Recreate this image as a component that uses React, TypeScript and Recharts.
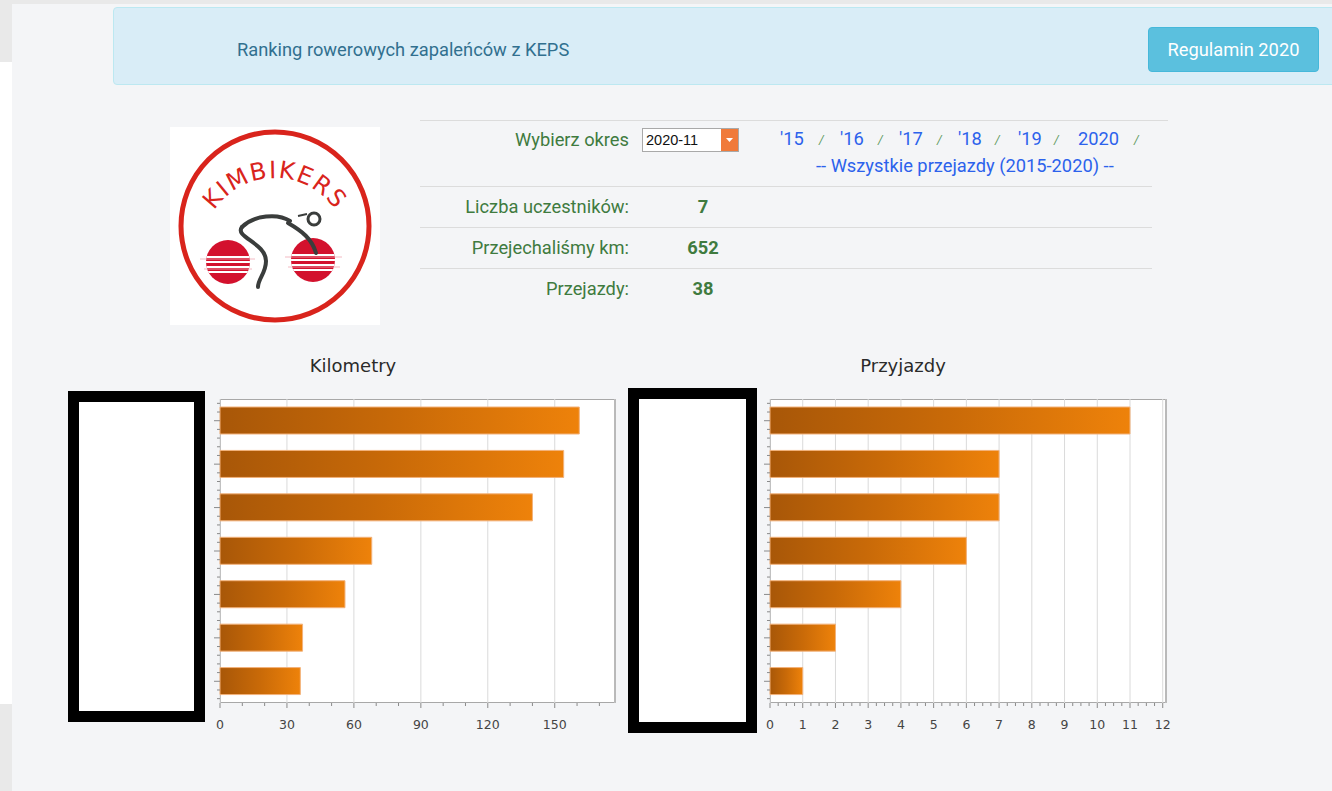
import React from 'react'
import { BarChart, Bar, XAxis, YAxis, CartesianGrid } from 'recharts'

// names are hidden (blacked out) in the reference
const riders = ['Uczestnik 1', 'Uczestnik 2', 'Uczestnik 3', 'Uczestnik 4', 'Uczestnik 5', 'Uczestnik 6', 'Uczestnik 7']
const kmValues = [161, 154, 140, 68, 56, 37, 36]
const rideValues = [11, 7, 7, 6, 4, 2, 1]
const kmTicks = [0, 30, 60, 90, 120, 150]
const rideTicks = [0, 1, 2, 3, 4, 5, 6, 7, 8, 9, 10, 11, 12]
const yearLinks = ["'15", "'16", "'17", "'18", "'19", '2020']

const KM_MAX = 177
const RIDE_MAX = 12.1
const PLOT_W_LEFT = 395
const PLOT_W_RIGHT = 396
const PLOT_H = 304

const kmData = riders.map((name, i) => ({ name, value: kmValues[i] }))
const rideData = riders.map((name, i) => ({ name, value: rideValues[i] }))

const green = '#3f7b3f'
const blue = '#2c62ec'
const FS = 18.3

function makeXTick(minorStep: number, perMajor: number, pxPerUnit: number, max: number) {
  return (props: any) => {
    const { x, y, payload } = props
    const v = payload.value as number
    const minors = []
    for (let k = 1; k < perMajor; k++) {
      const val = v + k * minorStep
      if (val <= max) {
        const mx = x + k * minorStep * pxPerUnit
        minors.push(<line key={k} x1={mx} x2={mx} y1={y} y2={y + 3} stroke="#8a8a8a" />)
      }
    }
    return (
      <g>
        <line x1={x} x2={x} y1={y} y2={y + 5} stroke="#8a8a8a" />
        {minors}
        <text x={x} y={y + 26} textAnchor="middle" fontSize={12.5} fill="#444" fontFamily="DejaVu Sans, sans-serif">
          {v}
        </text>
      </g>
    )
  }
}

function yTick(props: any) {
  const { x, y } = props
  const band = PLOT_H / riders.length
  const marks = []
  for (let k = -2; k <= 2; k++) {
    if (k === 0) continue
    const my = y + (k * band) / 5
    marks.push(<line key={k} x1={x - 3} x2={x} y1={my} y2={my} stroke="#8a8a8a" />)
  }
  return (
    <g>
      <line x1={x - 6} x2={x} y1={y} y2={y} stroke="#8a8a8a" />
      {marks}
    </g>
  )
}

function HBarChart({ data, max, ticks, plotW, gradId, tick }: any) {
  return (
    <BarChart
      width={20 + plotW + 25}
      height={350}
      layout="vertical"
      data={data}
      margin={{ top: 9, right: 25, bottom: 7, left: 0 }}
      barCategoryGap={0}
    >
      <defs>
        <linearGradient id={gradId} x1="0" y1="0" x2="1" y2="0">
          <stop offset="0%" stopColor="#a85708" />
          <stop offset="50%" stopColor="#c96a08" />
          <stop offset="100%" stopColor="#ee820a" />
        </linearGradient>
      </defs>
      <CartesianGrid horizontal={false} vertical stroke="#dadada" />
      <XAxis
        type="number"
        domain={[0, max]}
        ticks={ticks}
        interval={0}
        height={30}
        axisLine={false}
        tickLine={false}
        tickSize={0}
        tickMargin={0}
        tick={tick}
      />
      <YAxis
        type="category"
        dataKey="name"
        width={20}
        interval={0}
        axisLine={false}
        tickLine={false}
        tickSize={0}
        tickMargin={0}
        tick={yTick}
      />
      <Bar dataKey="value" fill={`url(#${gradId})`} stroke="#f3b27a" strokeWidth={1} barSize={27} isAnimationActive={false} />
    </BarChart>
  )
}

function Logo() {
  return (
    <svg width={210} height={198} style={{ display: 'block' }}>
      <rect x={0} y={0} width={210} height={198} fill="#fff" />
      <circle cx={105} cy={99} r={94} fill="none" stroke="#d9241c" strokeWidth={5} />
      <path id="logoArc" d="M 33 112 A 73 73 0 0 1 177 112" fill="none" />
      <text fontSize={24} fill="#d9241c" fontFamily="DejaVu Sans, sans-serif" letterSpacing={1.5}>
        <textPath href="#logoArc" startOffset="50%" textAnchor="middle">KIMBIKERS</textPath>
      </text>
      <defs>
        <clipPath id="wl"><circle cx={58} cy={135} r={22} /></clipPath>
        <clipPath id="wr"><circle cx={143} cy={133} r={22} /></clipPath>
      </defs>
      <circle cx={58} cy={135} r={22} fill="#d3112d" />
      <circle cx={143} cy={133} r={22} fill="#d3112d" />
      <g clipPath="url(#wl)" stroke="#fff" strokeWidth={2}>
        <line x1={30} x2={90} y1={130} y2={130} />
        <line x1={30} x2={90} y1={135} y2={135} />
        <line x1={30} x2={90} y1={140} y2={140} />
        <line x1={30} x2={90} y1={145} y2={145} />
      </g>
      <g clipPath="url(#wr)" stroke="#fff" strokeWidth={2}>
        <line x1={115} x2={175} y1={128} y2={128} />
        <line x1={115} x2={175} y1={133} y2={133} />
        <line x1={115} x2={175} y1={138} y2={138} />
        <line x1={115} x2={175} y1={143} y2={143} />
      </g>
      <g stroke="#f0a8b4" strokeWidth={0.8}>
        <line x1={30} x2={85} y1={132} y2={132} />
        <line x1={34} x2={82} y1={142} y2={142} />
        <line x1={115} x2={172} y1={130} y2={130} />
        <line x1={118} x2={170} y1={140} y2={140} />
      </g>
      <g fill="none" stroke="#3a3d3c" strokeWidth={4} strokeLinecap="round">
        <path d="M 72 100 C 84 88, 108 86, 120 94" />
        <path d="M 72 100 C 64 110, 96 116, 96 134 C 96 146, 88 152, 88 160" />
        <path d="M 118 96 C 132 104, 142 112, 146 126" />
      </g>
      <circle cx={144} cy={92} r={6} fill="none" stroke="#3a3d3c" strokeWidth={3} />
      <path d="M 128 89 L 137 87" stroke="#3a3d3c" strokeWidth={2} />
    </svg>
  )
}

const label: React.CSSProperties = {
  position: 'absolute',
  width: 300,
  textAlign: 'right',
  fontFamily: 'Roboto, sans-serif',
  fontSize: FS,
  color: green,
  lineHeight: '22px',
}
const value: React.CSSProperties = {
  position: 'absolute',
  width: 60,
  textAlign: 'center',
  fontFamily: 'Roboto, sans-serif',
  fontSize: FS,
  fontWeight: 700,
  color: green,
  lineHeight: '22px',
}
const hr = (top: number, left: number, width: number): React.CSSProperties => ({
  position: 'absolute', top, left, width, height: 1, background: '#dcdcdc',
})

const yearX = [780, 840, 899, 958, 1018, 1078]
const slashX = [822, 881, 940, 998, 1057, 1137]

export default function App() {
  return (
    <div style={{ position: 'absolute', left: 0, top: 0, width: 1332, height: 791, overflow: 'hidden', background: '#f4f5f7' }}>
      <div style={{ position: 'absolute', left: 0, top: 0, width: 1332, height: 4, background: '#e9e9e9' }} />
      <div style={{ position: 'absolute', left: 0, top: 0, width: 12, height: 62, background: '#e9e9e9' }} />
      <div style={{ position: 'absolute', left: 0, top: 62, width: 12, height: 642, background: '#fff' }} />
      <div style={{ position: 'absolute', left: 0, top: 704, width: 12, height: 87, background: '#e9e9e9' }} />

      {/* header */}
      <div
        style={{
          position: 'absolute', left: 113, top: 7, width: 1260, height: 78, boxSizing: 'border-box',
          background: '#d9edf7', border: '1px solid #bce8f1', borderRadius: 4,
        }}
      />
      <div style={{ position: 'absolute', left: 237, top: 38, fontFamily: 'Roboto, sans-serif', fontSize: FS, color: '#31708f', lineHeight: '24px' }}>
        Ranking rowerowych zapaleńców z KEPS
      </div>
      <div
        style={{
          position: 'absolute', left: 1148, top: 27, width: 171, height: 45, background: '#5bc0de', borderRadius: 4,
          border: '1px solid #46b8da', boxSizing: 'border-box', color: '#fff', fontFamily: 'Roboto, sans-serif', fontSize: FS,
          display: 'flex', alignItems: 'center', justifyContent: 'center',
        }}
      >
        Regulamin 2020
      </div>

      {/* logo */}
      <div style={{ position: 'absolute', left: 170, top: 127 }}>
        <Logo />
      </div>

      {/* info table */}
      <div style={hr(120, 420, 748)} />
      <div style={hr(186, 420, 732)} />
      <div style={hr(227, 420, 732)} />
      <div style={hr(268, 420, 732)} />

      <div style={{ ...label, left: 329, top: 129 }}>Wybierz okres</div>
      <div
        style={{
          position: 'absolute', left: 642, top: 128, width: 97, height: 24, boxSizing: 'border-box', background: '#fff',
          border: '1px solid #a9a9a9', fontFamily: 'Liberation Sans, Arial, sans-serif', fontSize: 14.5, color: '#111',
          lineHeight: '22px', paddingLeft: 3,
        }}
      >
        2020-11
      </div>
      <div style={{ position: 'absolute', left: 721, top: 129, width: 17, height: 22, background: '#f07a3a' }}>
        <svg width={17} height={22}>
          <path d="M 5 9 L 12 9 L 8.5 13 Z" fill="#fff" />
        </svg>
      </div>

      {yearLinks.map((y, i) => (
        <div key={y} style={{ position: 'absolute', left: yearX[i], top: 127, fontFamily: 'Roboto, sans-serif', fontSize: FS, color: blue, lineHeight: '24px' }}>
          {y}
        </div>
      ))}
      {slashX.map((x) => (
        <div key={x} style={{ position: 'absolute', left: x - 3, top: 131, fontFamily: 'Roboto, sans-serif', fontSize: 12, fontStyle: 'italic', color: '#5f9a5f', lineHeight: '18px' }}>
          /
        </div>
      ))}
      <div style={{ position: 'absolute', left: 816, top: 154, fontFamily: 'Roboto, sans-serif', fontSize: FS, color: blue, lineHeight: '24px' }}>
        -- Wszystkie przejazdy (2015-2020) --
      </div>

      <div style={{ ...label, left: 329, top: 196 }}>Liczba uczestników:</div>
      <div style={{ ...value, left: 673, top: 196 }}>{riders.length}</div>
      <div style={{ ...label, left: 329, top: 237 }}>Przejechaliśmy km:</div>
      <div style={{ ...value, left: 673, top: 237 }}>{kmValues.reduce((a, b) => a + b, 0)}</div>
      <div style={{ ...label, left: 329, top: 278 }}>Przejazdy:</div>
      <div style={{ ...value, left: 673, top: 278 }}>{rideValues.reduce((a, b) => a + b, 0)}</div>

      {/* chart titles */}
      <div style={{ position: 'absolute', left: 253, width: 200, top: 355, textAlign: 'center', fontFamily: 'DejaVu Sans, sans-serif', fontSize: 18, color: '#2a2a2a' }}>
        Kilometry
      </div>
      <div style={{ position: 'absolute', left: 803, width: 200, top: 355, textAlign: 'center', fontFamily: 'DejaVu Sans, sans-serif', fontSize: 18, color: '#2a2a2a' }}>
        Przyjazdy
      </div>

      {/* redacted name boxes */}
      <div style={{ position: 'absolute', left: 68, top: 391, width: 137, height: 331, boxSizing: 'border-box', border: '11px solid #000', background: '#fff' }} />
      <div style={{ position: 'absolute', left: 628, top: 388, width: 129, height: 345, boxSizing: 'border-box', border: '11px solid #000', background: '#fff' }} />

      {/* plot frames */}
      <div style={{ position: 'absolute', left: 220, top: 399, width: PLOT_W_LEFT + 1, height: PLOT_H, boxSizing: 'border-box', background: '#fff', border: '1px solid #a8a8a8', borderRightWidth: 2, borderRightColor: '#999' }} />
      <div style={{ position: 'absolute', left: 770, top: 399, width: PLOT_W_RIGHT + 1, height: PLOT_H, boxSizing: 'border-box', background: '#fff', border: '1px solid #a8a8a8', borderRightWidth: 2, borderRightColor: '#999' }} />

      <div style={{ position: 'absolute', left: 200, top: 390 }}>
        <HBarChart
          data={kmData}
          max={KM_MAX}
          ticks={kmTicks}
          plotW={PLOT_W_LEFT}
          gradId="gradKm"
          tick={makeXTick(10, 3, PLOT_W_LEFT / KM_MAX, KM_MAX)}
        />
      </div>
      <div style={{ position: 'absolute', left: 750, top: 390 }}>
        <HBarChart
          data={rideData}
          max={RIDE_MAX}
          ticks={rideTicks}
          plotW={PLOT_W_RIGHT}
          gradId="gradRide"
          tick={makeXTick(0.25, 4, PLOT_W_RIGHT / RIDE_MAX, RIDE_MAX)}
        />
      </div>
    </div>
  )
}
